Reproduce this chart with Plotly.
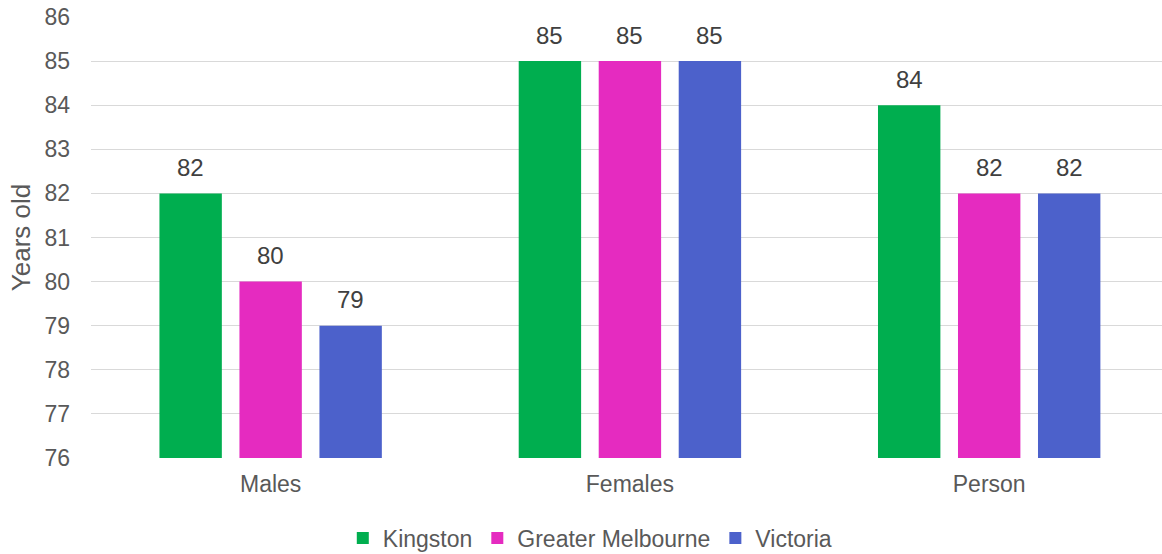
import plotly.graph_objects as go

categories = ["Males", "Females", "Person"]
kingston = [82, 85, 84]
greater_melbourne = [80, 85, 82]
victoria = [79, 85, 82]
y_ticks = list(range(76, 87))

series = [
    ("Kingston", kingston, "#00AE4F"),
    ("Greater Melbourne", greater_melbourne, "#E52BC0"),
    ("Victoria", victoria, "#4C61CB"),
]

FONT = "Liberation Sans, Arial, sans-serif"
W, H = 1162, 554
M_L, M_R, M_T, M_B = 91, 0, 17, 96
X_RANGE = [-0.5, 2.481]
BARGAP = 0.332
GROUPGAP = 0.22

# pixel width of one bar slot inside a category group
px_per_cat = (W - M_L - M_R) / (X_RANGE[1] - X_RANGE[0])
slot_px = px_per_cat * (1 - BARGAP) / len(series)

fig = go.Figure()
annotations = []
for i, (name, vals, color) in enumerate(series):
    fig.add_trace(go.Bar(
        name=name,
        x=categories,
        y=vals,
        base=0,
        marker=dict(color=color, line=dict(width=0)),
    ))
    for cat, v in zip(categories, vals):
        annotations.append(dict(
            x=cat, y=v, xref="x", yref="y",
            text=str(v), showarrow=False,
            xanchor="center", yanchor="middle",
            xshift=(i - (len(series) - 1) / 2) * slot_px,
            yshift=26,
            font=dict(family=FONT, size=24, color="#404040"),
        ))

fig.update_layout(
    width=W,
    height=H,
    margin=dict(l=M_L, r=M_R, t=M_T, b=M_B),
    paper_bgcolor="white",
    plot_bgcolor="white",
    barmode="group",
    bargap=BARGAP,
    bargroupgap=GROUPGAP,
    font=dict(family=FONT, size=23, color="#595959"),
    showlegend=True,
    annotations=annotations,
    legend=dict(
        orientation="h",
        x=0.508,
        xref="container",
        xanchor="center",
        y=0.029,
        yref="container",
        yanchor="middle",
        font=dict(family=FONT, size=23, color="#595959"),
        itemwidth=30,
        traceorder="normal",
    ),
    xaxis=dict(
        type="category",
        range=X_RANGE,
        showgrid=False,
        showline=False,
        ticks="",
        ticklabelstandoff=10,
        automargin=False,
        tickfont=dict(family=FONT, size=23, color="#595959"),
    ),
    yaxis=dict(
        range=[76, 86],
        tickvals=y_ticks,
        showgrid=True,
        gridcolor="#D9D9D9",
        gridwidth=1,
        zeroline=False,
        showline=False,
        ticks="",
        ticklabelstandoff=20,
        automargin=False,
        tickfont=dict(family=FONT, size=23, color="#595959"),
        title=dict(text="Years old", standoff=6,
                   font=dict(family=FONT, size=26, color="#595959")),
    ),
)

fig.write_html("out.html")
